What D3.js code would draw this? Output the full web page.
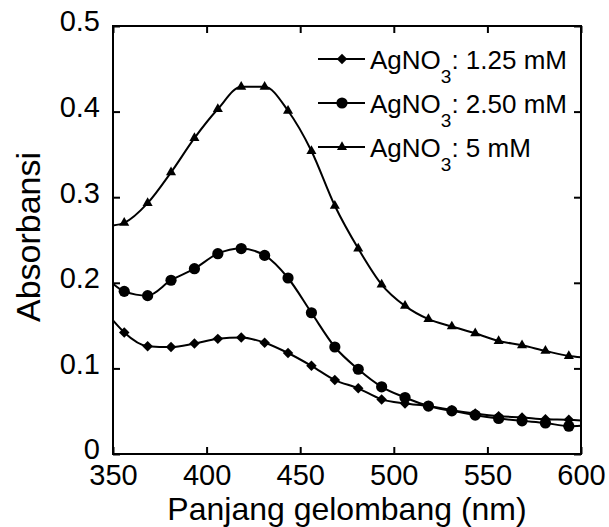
<!DOCTYPE html>
<html>
<head>
<meta charset="utf-8">
<script src="https://cdn.jsdelivr.net/npm/d3@7"></script>
<style>
  body { margin: 0; background: #fff; }
  svg { display: block; }
  text { font-family: 'Liberation Sans', Arial, sans-serif; fill: #000; }
</style>
</head>
<body>
<svg id="chart" width="609" height="527"></svg>
<script>
// wavelength in nm, first and last point are line ends without marker
const WAVELENGTH = [350, 356, 368.5, 381, 393.5, 406, 418.5, 431, 443.5, 456, 468.5,
  481, 493.5, 506, 518.5, 531, 543.5, 556, 568.5, 581, 593.5, 600]

const ABS_125 = [0.156, 0.142, 0.126, 0.125, 0.129, 0.1345, 0.136, 0.130, 0.118, 0.103, 0.0864,
  0.0767, 0.0638, 0.059, 0.056, 0.0512, 0.0473, 0.0442, 0.0427, 0.0405, 0.0400, 0.039]

const ABS_250 = [0.199, 0.190, 0.185, 0.203, 0.2165, 0.234, 0.240, 0.232, 0.2056, 0.165, 0.125,
  0.099, 0.0785, 0.066, 0.056, 0.0504, 0.0454, 0.0415, 0.0387, 0.0363, 0.0325, 0.033]

const ABS_500 = [0.267, 0.270, 0.293, 0.329, 0.369, 0.403, 0.429, 0.429, 0.401, 0.354, 0.290,
  0.240, 0.198, 0.173, 0.1575, 0.149, 0.141, 0.132, 0.127, 0.1204, 0.1145, 0.113]

const LEGEND_LABELS = [': 1.25 mM', ': 2.50 mM', ': 5 mM']
const X_TICKS = [350, 400, 450, 500, 550, 600]
const Y_TICKS = [0, 0.1, 0.2, 0.3, 0.4, 0.5]

const margin = {top: 26, right: 28, bottom: 73, left: 113}
const width = 609 - margin.left - margin.right
const height = 527 - margin.top - margin.bottom

const svg = d3.select('#chart')
const g = svg.append('g').attr('transform', `translate(${margin.left},${margin.top})`)

const x = d3.scaleLinear().domain([350, 600]).range([0, width])
const y = d3.scaleLinear().domain([0, 0.5]).range([height, 0])

const markers = {
  diamond: sel => sel.append('path').attr('d', d3.symbol(d3.symbolDiamond2, 70)()),
  circle: sel => sel.append('circle').attr('r', 5.6),
  triangle: sel => sel.append('path').attr('d', d3.symbol(d3.symbolTriangle, 44)())
}

const series = [
  {values: ABS_125, marker: 'diamond', label: LEGEND_LABELS[0]},
  {values: ABS_250, marker: 'circle', label: LEGEND_LABELS[1]},
  {values: ABS_500, marker: 'triangle', label: LEGEND_LABELS[2]}
]

const line = d3.line()
  .x(d => x(d.w))
  .y(d => y(d.a))
  .curve(d3.curveMonotoneX)

series.forEach(s => {
  const data = WAVELENGTH.map((w, i) => ({w, a: s.values[i], i}))
  g.append('path')
    .datum(data)
    .attr('fill', 'none')
    .attr('stroke', '#000')
    .attr('stroke-width', 2)
    .attr('d', line)

  g.selectAll(null)
    .data(data.filter(d => d.i > 0 && d.i < data.length - 1))
    .join('g')
    .attr('transform', d => `translate(${x(d.w)},${y(d.a)})`)
    .each(function () { markers[s.marker](d3.select(this)) })
})

// axes, ticks inside on all four sides
const tickLen = 7
const styleAxis = sel => {
  sel.select('.domain').remove()
  sel.selectAll('.tick line').attr('stroke', '#000').attr('stroke-width', 2)
  sel.selectAll('.tick text').style('font-size', '29px')
}

g.append('g')
  .attr('transform', `translate(0,${height})`)
  .call(d3.axisBottom(x).tickValues(X_TICKS).tickSize(-tickLen).tickSizeOuter(0).tickFormat(d3.format('d')))
  .call(styleAxis)
  .call(a => a.selectAll('.tick text').attr('y', 31).attr('dy', null))

g.append('g')
  .call(d3.axisLeft(y).tickValues(Y_TICKS).tickSize(-tickLen).tickSizeOuter(0).tickFormat(d => d === 0 ? '0' : d3.format('.1f')(d)))
  .call(styleAxis)
  .call(a => a.selectAll('.tick text').attr('x', -13).attr('dy', '0.17em'))

g.append('g')
  .call(d3.axisTop(x).tickValues(X_TICKS).tickSize(-tickLen).tickSizeOuter(0).tickFormat(''))
  .call(styleAxis)

g.append('g')
  .attr('transform', `translate(${width},0)`)
  .call(d3.axisRight(y).tickValues(Y_TICKS).tickSize(-tickLen).tickSizeOuter(0).tickFormat(''))
  .call(styleAxis)

g.append('rect')
  .attr('width', width)
  .attr('height', height)
  .attr('fill', 'none')
  .attr('stroke', '#000')
  .attr('stroke-width', 2)

// axis titles
g.append('text')
  .attr('x', width / 2)
  .attr('y', height + 66)
  .attr('text-anchor', 'middle')
  .style('font-size', '32px')
  .text('Panjang gelombang (nm)')

svg.append('text')
  .attr('transform', 'translate(40,237) rotate(-90)')
  .attr('text-anchor', 'middle')
  .style('font-size', '34px')
  .text('Absorbansi')

// legend
const legend = svg.append('g').attr('transform', 'translate(318,59)')
series.forEach((s, i) => {
  const row = legend.append('g').attr('transform', `translate(0,${i * 44})`)
  row.append('line')
    .attr('x1', 0).attr('x2', 47)
    .attr('stroke', '#000').attr('stroke-width', 2)
  markers[s.marker](row.append('g').attr('transform', 'translate(24,0)'))
  const t = row.append('text')
    .attr('x', 52)
    .attr('y', 10)
    .style('font-size', '26px')
  t.append('tspan').text('AgNO')
  t.append('tspan').attr('dy', 14).style('font-size', '19px').text('3')
  t.append('tspan').attr('dy', -14).text(s.label)
})
</script>
</body>
</html>
